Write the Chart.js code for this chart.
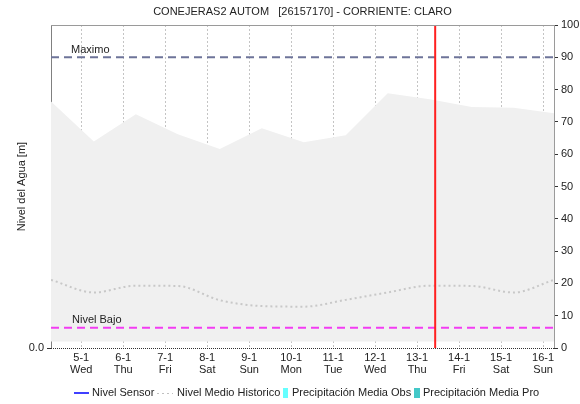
<!DOCTYPE html>
<html>
<head>
<meta charset="utf-8">
<script src="https://cdn.jsdelivr.net/npm/chart.js@4/dist/chart.umd.min.js"></script>
<style>
  html, body { margin: 0; padding: 0; background: #fff; }
  #caja { width: 580px; height: 404px; }
</style>
</head>
<body>
<div id="caja"><canvas id="nivel"></canvas></div>
<script>
// dias del eje x (enero) y su nombre
var dias = [5, 6, 7, 8, 9, 10, 11, 12, 13, 14, 15, 16];
var nombresDia = ['Wed', 'Thu', 'Fri', 'Sat', 'Sun', 'Mon', 'Tue', 'Wed', 'Thu', 'Fri', 'Sat', 'Sun'];

// tiempos en dias, con las series
var tiempos   = [4.28, 5.3, 6.3, 7.3, 8.3, 9.3, 10.3, 11.3, 12.3, 13.3, 14.3, 15.3, 16.26];
var rangoSup  = [76.3, 63.9, 72.4, 66.2, 61.6, 68.0, 63.7, 65.9, 78.9, 77.0, 74.6, 74.4, 72.7];
var rangoInf  = [2, 2, 2, 2, 2, 2, 2, 2, 2, 2, 2, 2, 2];
var medioHist = [21.1, 17.2, 19.3, 19.2, 14.8, 13.0, 12.8, 14.9, 17.2, 19.3, 19.2, 17.2, 21.1];

var nivelMaximo = 90;
var nivelBajo = 6.3;
var horaActual = 13.43;
var xMin = 4.28, xMax = 16.26;
var ticksDer = [0, 10, 20, 30, 40, 50, 60, 70, 80, 90, 100];

var fuente = '"Liberation Sans", Arial, sans-serif';

function serie(ys) {
  return tiempos.map(function (t, i) { return { x: t, y: ys[i] }; });
}
function horizontal(v) {
  return [{ x: xMin, y: v }, { x: xMax, y: v }];
}

var marco = {
  id: 'marco',
  afterDraw: function (chart) {
    var ctx = chart.ctx, a = chart.chartArea;
    var sy = chart.scales.y;
    ctx.save();
    // borde superior y derecho
    ctx.strokeStyle = '#9a9a9a';
    ctx.lineWidth = 1;
    ctx.beginPath();
    ctx.moveTo(a.left, a.top + 0.5); ctx.lineTo(a.right, a.top + 0.5);
    ctx.moveTo(a.right + 0.5, a.top); ctx.lineTo(a.right + 0.5, a.bottom);
    ctx.stroke();
    // eje inferior punteado
    ctx.strokeStyle = '#333';
    ctx.setLineDash([1, 1]);
    ctx.beginPath();
    ctx.moveTo(a.left, a.bottom + 0.5); ctx.lineTo(a.right, a.bottom + 0.5);
    ctx.stroke();
    ctx.setLineDash([]);

    // textos de las lineas de referencia
    ctx.fillStyle = '#222';
    ctx.font = '11px ' + fuente;
    ctx.textAlign = 'left';
    ctx.textBaseline = 'bottom';
    ctx.fillText('Maximo', a.left + 20, sy.getPixelForValue(nivelMaximo) - 2);
    ctx.fillText('Nivel Bajo', a.left + 21, sy.getPixelForValue(nivelBajo) - 2);

    // titulo
    ctx.textAlign = 'center';
    ctx.textBaseline = 'middle';
    ctx.fillText('CONEJERAS2 AUTOM   [26157170] - CORRIENTE: CLARO', (a.left + a.right) / 2, 12);

    // leyenda
    var yl = 393;
    ctx.textAlign = 'left';
    ctx.lineWidth = 1.5;
    ctx.strokeStyle = '#0000ff';
    ctx.beginPath(); ctx.moveTo(74, yl); ctx.lineTo(89, yl); ctx.stroke();
    ctx.fillText('Nivel Sensor', 92, yl);
    ctx.lineWidth = 1;
    ctx.strokeStyle = '#c0c0c0';
    ctx.setLineDash([2, 3]);
    ctx.beginPath(); ctx.moveTo(157, yl + 0.5); ctx.lineTo(173, yl + 0.5); ctx.stroke();
    ctx.setLineDash([]);
    ctx.fillText('Nivel Medio Historico', 177, yl);
    ctx.fillStyle = '#66ffff';
    ctx.fillRect(283, yl - 5, 5, 10);
    ctx.fillStyle = '#222';
    ctx.fillText('Precipitación Media Obs', 292, yl);
    ctx.fillStyle = '#44c8c8';
    ctx.fillRect(414, yl - 5, 6, 10);
    ctx.fillStyle = '#222';
    ctx.fillText('Precipitación Media Pro', 423, yl);
    ctx.restore();
  }
};

new Chart(document.getElementById('nivel'), {
  type: 'line',
  data: {
    datasets: [
      { label: 'rangoSup', data: serie(rangoSup), borderWidth: 0, pointRadius: 0,
        backgroundColor: '#f0f0f0', fill: '+1', order: 5 },
      { label: 'rangoInf', data: serie(rangoInf), borderWidth: 0, pointRadius: 0, fill: false, order: 5 },
      { label: 'Nivel Medio Historico', data: serie(medioHist), borderColor: '#c8c8c8', borderWidth: 2,
        borderDash: [2, 3], pointRadius: 0, cubicInterpolationMode: 'monotone', fill: false, order: 3 },
      { label: 'Maximo', data: horizontal(nivelMaximo), borderColor: '#6e7499', borderWidth: 2,
        borderDash: [8, 5], pointRadius: 0, fill: false, order: 2 },
      { label: 'Nivel Bajo', data: horizontal(nivelBajo), borderColor: '#f23cf2', borderWidth: 2,
        borderDash: [8, 5], pointRadius: 0, fill: false, order: 2 },
      { label: 'ahora', data: [{ x: horaActual, y: 0 }, { x: horaActual, y: 100 }],
        borderColor: '#ff2020', borderWidth: 2, pointRadius: 0, fill: false, order: 1 },
      { label: 'Nivel Sensor', data: [], borderColor: '#0000ff', borderWidth: 1, pointRadius: 0 }
    ]
  },
  options: {
    responsive: true,
    maintainAspectRatio: false,
    animation: false,
    layout: { padding: { top: 25, right: 0, left: 0, bottom: 0 } },
    plugins: {
      legend: { display: false },
      tooltip: { enabled: false }
    },
    scales: {
      x: {
        type: 'linear', min: xMin, max: xMax, z: 1,
        afterBuildTicks: function (s) { s.ticks = dias.map(function (d) { return { value: d }; }); },
        afterFit: function (s) { s.height = 56; },
        ticks: {
          autoSkip: false, maxRotation: 0, padding: 4, color: '#222',
          font: { family: fuente, size: 11, lineHeight: 1.1 },
          callback: function (v) { return [v + '-1', nombresDia[dias.indexOf(v)]]; }
        },
        grid: { color: '#c4c4c4', drawTicks: false },
        border: { display: false, dash: [2, 2] }
      },
      y: {
        position: 'right', min: 0, max: 100,
        afterBuildTicks: function (s) { s.ticks = ticksDer.map(function (v) { return { value: v }; }); },
        afterFit: function (s) { s.width = 26; },
        ticks: { padding: 3, color: '#222', font: { family: fuente, size: 11 } },
        grid: { drawOnChartArea: false, tickLength: 4, color: '#333' },
        border: { display: false }
      },
      yL: {
        position: 'left', min: 0, max: 100,
        afterBuildTicks: function (s) { s.ticks = [{ value: 0 }]; },
        afterFit: function (s) { s.width = 51; },
        ticks: { padding: 3, color: '#222', font: { family: fuente, size: 11 },
          callback: function () { return '0.0'; } },
        grid: { drawOnChartArea: false, tickLength: 4, color: '#333' },
        border: { display: true, color: '#808080', width: 1 },
        title: { display: true, text: 'Nivel del Agua [m]', color: '#222',
          font: { family: fuente, size: 11 }, padding: { top: 15, bottom: 0 } }
      }
    }
  },
  plugins: [marco]
});
</script>
</body>
</html>
